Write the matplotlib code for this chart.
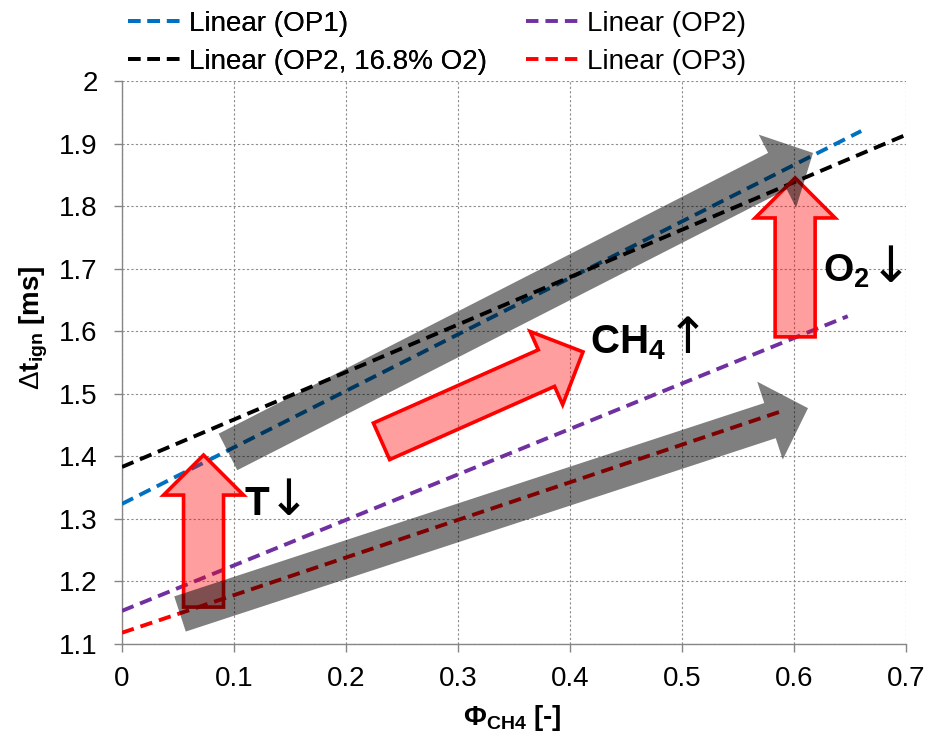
import matplotlib
matplotlib.use("Agg")
import matplotlib.pyplot as plt
import numpy as np
from matplotlib.patches import Polygon

plt.rcParams['font.family'] = ['Liberation Sans', 'DejaVu Sans']
plt.rcParams['mathtext.fontset'] = 'custom'
plt.rcParams['mathtext.rm'] = 'Liberation Sans'
plt.rcParams['mathtext.it'] = 'Liberation Sans:italic'
plt.rcParams['mathtext.bf'] = 'Liberation Sans:bold'

# ---- data: linear trend lines (start x, end x, start y, end y) ----
series_names = ["Linear (OP1)", "Linear (OP2)", "Linear (OP2, 16.8% O2)", "Linear (OP3)"]
series_colors = ["#0070C0", "#7030A0", "#000000", "#FF0000"]
x_start = [0.0, 0.0, 0.0, 0.0]
x_end = [0.66, 0.648, 0.70, 0.592]
y_start = [1.324, 1.153, 1.383, 1.118]
y_end = [1.920, 1.624, 1.914, 1.474]

x_ticks = [0, 0.1, 0.2, 0.3, 0.4, 0.5, 0.6, 0.7]
x_ticklabels = ["0", "0.1", "0.2", "0.3", "0.4", "0.5", "0.6", "0.7"]
y_ticks = [1.1, 1.2, 1.3, 1.4, 1.5, 1.6, 1.7, 1.8, 1.9, 2.0]
y_ticklabels = ["1.1", "1.2", "1.3", "1.4", "1.5", "1.6", "1.7", "1.8", "1.9", "2"]

# annotation arrows (tail, tip in data coordinates)
gray_arrows = [((0.0946, 1.407), (0.617, 1.885), 41),
               ((0.0518, 1.148), (0.6125, 1.477), 37)]
red_arrows = [((0.0728, 1.159), (0.0728, 1.402)),
              ((0.601, 1.591), (0.601, 1.845)),
              ((0.2317, 1.424), (0.4116, 1.567))]

W, H = 929, 745
fig = plt.figure(figsize=(W / 100, H / 100), dpi=100)
ax = fig.add_axes([122 / W, 1 - 644 / H, (906 - 122) / W, (644 - 81) / H])
ax.set_xlim(0, 0.7)
ax.set_ylim(1.1, 2.0)

for s in ['top', 'right']:
    ax.spines[s].set_visible(False)
for s in ['left', 'bottom']:
    ax.spines[s].set_color('#868686')
    ax.spines[s].set_linewidth(1.0)
ax.set_xticks(x_ticks)
ax.set_xticklabels(x_ticklabels)
ax.set_yticks(y_ticks)
ax.set_yticklabels(y_ticklabels)
ax.tick_params(axis='both', direction='out', length=5.5, color='#868686', width=1,
               labelsize=20, labelcolor='black')
ax.tick_params(axis='x', pad=10)
ax.tick_params(axis='y', pad=12)
ax.grid(True, color='#8c8c8c', linestyle=(0, (2, 2)), linewidth=0.8)
ax.set_axisbelow(True)

handles = []
for name, c, x0, x1, y0, y1 in zip(series_names, series_colors, x_start, x_end, y_start, y_end):
    ln, = ax.plot([x0, x1], [y0, y1], color=c, linewidth=2.8,
                  linestyle=(0, (3.2, 1.8)), zorder=3, label=name)
    handles.append(ln)


def arrow_poly(tail, tip, shaft_w, head_w, head_len):
    t = ax.transData.transform(tail)
    p = ax.transData.transform(tip)
    d = p - t
    L = np.hypot(*d)
    u = d / L
    n = np.array([-u[1], u[0]])
    b = p - u * head_len
    pts = [t + n * shaft_w / 2, b + n * shaft_w / 2, b + n * head_w / 2, p,
           b - n * head_w / 2, b - n * shaft_w / 2, t - n * shaft_w / 2]
    return ax.transData.inverted().transform(np.array(pts))


for tail, tip in red_arrows:
    pts = arrow_poly(tail, tip, 40, 80, 40)
    ax.add_patch(Polygon(pts, closed=True, facecolor=(1, 0, 0, 0.38),
                         edgecolor='#FF0000', linewidth=2.6, zorder=4, joinstyle='miter'))

for tail, tip, sw in gray_arrows:
    pts = arrow_poly(tail, tip, sw, 82, 40)
    ax.add_patch(Polygon(pts, closed=True, facecolor=(0, 0, 0, 0.5),
                         edgecolor='none', zorder=5))

arrow_font = dict(family=['DejaVu Sans'], fontsize=36, fontweight='normal',
                  ha='left', va='baseline', zorder=6)
ax.text(0.1098, 1.306, "T", fontsize=29, fontweight='bold', ha='left', va='baseline', zorder=6)
ax.text(0.1305, 1.306, "↓", **arrow_font)
ax.text(0.418, 1.565, r"$\mathbf{CH_4}$", fontsize=29, fontweight='bold', ha='left',
        va='baseline', zorder=6)
ax.text(0.486, 1.565, "↑", **arrow_font)
ax.text(0.626, 1.679, r"$\mathbf{O_2}$", fontsize=28, fontweight='bold', ha='left',
        va='baseline', zorder=6)
ax.text(0.668, 1.679, "↓", **arrow_font)

fig.text(34 / W, 1 - 328 / H, r"$\Delta\mathbf{t_{ign}}$ [ms]", rotation=90, fontsize=20,
         fontweight='bold', ha='center', va='center')
fig.text(512 / W, 1 - 718 / H, r"$\mathbf{Φ_{CH4}}$ [-]", fontsize=20,
         fontweight='bold', ha='center', va='center')

leg_kw = dict(loc='upper left', ncol=1, frameon=False, fontsize=20, handlelength=2.0,
              handletextpad=0.18, labelspacing=0.42, borderpad=0.0, borderaxespad=0.0)
leg1 = fig.legend([handles[0], handles[2]], [series_names[0], series_names[2]],
                  bbox_to_anchor=(128 / W, 1 - 11 / H), **leg_kw)
fig.add_artist(leg1)
fig.legend([handles[1], handles[3]], [series_names[1], series_names[3]],
           bbox_to_anchor=(526 / W, 1 - 11 / H), **leg_kw)

fig.savefig("out.png", dpi=100)
